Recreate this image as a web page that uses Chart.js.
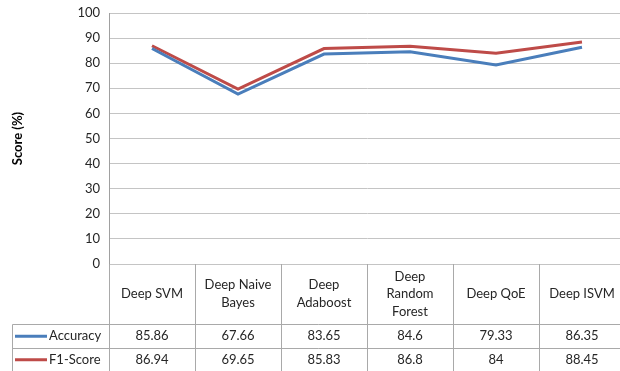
<!DOCTYPE html>
<html>
<head>
<meta charset="utf-8">
<script src="https://cdn.jsdelivr.net/npm/chart.js@4.4.1/dist/chart.umd.min.js"></script>
<style>
  html, body { margin: 0; padding: 0; background: #ffffff; overflow: hidden; }
  #wrap { width: 620px; height: 371px; overflow: hidden; }
  #chart { display: block; }
</style>
</head>
<body>
<div id="wrap"><canvas id="chart" width="625" height="371"></canvas></div>
<script>
// Model names, one per column of the data table (multi-line labels as arrays)
const categories = [
  ['Deep SVM'],
  ['Deep Naive', 'Bayes'],
  ['Deep', 'Adaboost'],
  ['Deep', 'Random', 'Forest'],
  ['Deep QoE'],
  ['Deep ISVM']
];
const seriesNames = ['Accuracy', 'F1-Score'];
const accuracy = [85.86, 67.66, 83.65, 84.6, 79.33, 86.35];
const f1Score = [86.94, 69.65, 85.83, 86.8, 84, 88.45];
const yTicks = [0, 10, 20, 30, 40, 50, 60, 70, 80, 90, 100];

const FONT = 'Lato, "Open Sans", "Liberation Sans", sans-serif';
const TEXT = '#262626';
const LINE_COLORS = ['#4a7ebb', '#be4b48'];
const TABLE_LINE = '#a9a9a9';

// Draws the data table under the plot: category names, legend keys and values
const dataTablePlugin = {
  id: 'dataTable',
  afterDraw(chart) {
    const { ctx, chartArea, scales } = chart;
    const x = scales.x;
    const H = chart.height;
    const W = chart.width;
    const half = (x.getPixelForValue(1) - x.getPixelForValue(0)) / 2;
    const catTop = chartArea.bottom;
    const catH = 60;
    const rowH = (H - catTop - catH) / 2;
    const rowTops = [catTop + catH, catTop + catH + rowH];
    const tableLeft = 12.5;

    ctx.save();
    ctx.strokeStyle = TABLE_LINE;
    ctx.lineWidth = 1;
    ctx.beginPath();
    // column separators
    for (let i = 0; i <= categories.length; i++) {
      const bx = Math.round(x.getPixelForValue(i) - half) + 0.5;
      ctx.moveTo(bx, catTop);
      ctx.lineTo(bx, H);
    }
    // row separators
    rowTops.forEach(t => {
      const yy = Math.round(t) + 0.5;
      ctx.moveTo(tableLeft, yy);
      ctx.lineTo(W, yy);
    });
    // left border of the series-name column
    ctx.moveTo(tableLeft, Math.round(rowTops[0]) + 0.5);
    ctx.lineTo(tableLeft, H);
    ctx.stroke();

    ctx.fillStyle = TEXT;
    ctx.textAlign = 'center';
    ctx.textBaseline = 'middle';
    ctx.font = '13px ' + FONT;
    const lh = 17.5;
    categories.forEach((lines, i) => {
      const cx = x.getPixelForValue(i);
      const cy = catTop + catH / 2;
      const start = cy - (lines.length - 1) * lh / 2;
      lines.forEach((ln, k) => ctx.fillText(ln, cx, start + k * lh));
    });

    const rows = [accuracy, f1Score];
    rows.forEach((vals, r) => {
      const cy = rowTops[r] + rowH / 2 + 0.5;
      vals.forEach((v, i) => {
        ctx.fillText(String(v), x.getPixelForValue(i), cy);
      });
      // legend key + series name
      ctx.strokeStyle = LINE_COLORS[r];
      ctx.lineWidth = 3;
      ctx.beginPath();
      ctx.moveTo(15, cy);
      ctx.lineTo(47, cy);
      ctx.stroke();
      ctx.textAlign = 'left';
      ctx.fillText(seriesNames[r], 49, cy);
      ctx.textAlign = 'center';
    });
    ctx.restore();
  }
};

new Chart(document.getElementById('chart'), {
  type: 'line',
  data: {
    labels: categories,
    datasets: [
      { label: seriesNames[0], data: accuracy, borderColor: LINE_COLORS[0], backgroundColor: LINE_COLORS[0] },
      { label: seriesNames[1], data: f1Score, borderColor: LINE_COLORS[1], backgroundColor: LINE_COLORS[1] }
    ]
  },
  options: {
    responsive: false,
    animation: false,
    devicePixelRatio: 1,
    layout: { padding: { left: 0, top: 13, right: 0, bottom: 107 } },
    elements: {
      line: { borderWidth: 3, tension: 0 },
      point: { radius: 0, hoverRadius: 0 }
    },
    plugins: {
      legend: { display: false },
      tooltip: { enabled: false }
    },
    scales: {
      x: {
        type: 'category',
        offset: true,
        display: false
      },
      y: {
        min: 0,
        max: 100,
        afterBuildTicks(scale) { scale.ticks = yTicks.map(v => ({ value: v })); },
        afterFit(scale) {
          scale.width = 109;
          scale.paddingTop = 0;
          scale.paddingBottom = 0;
        },
        ticks: {
          padding: 9,
          color: TEXT,
          font: { family: FONT, size: 13 }
        },
        grid: { color: '#c4c4c4', drawTicks: false, lineWidth: 1 },
        border: { display: true, color: '#a0a0a0' },
        title: {
          display: true,
          text: 'Score (%)',
          color: '#000000',
          padding: { top: 10, bottom: 0 },
          font: { family: FONT, size: 13, weight: 'bold' }
        }
      }
    }
  },
  plugins: [dataTablePlugin]
});
</script>
</body>
</html>
